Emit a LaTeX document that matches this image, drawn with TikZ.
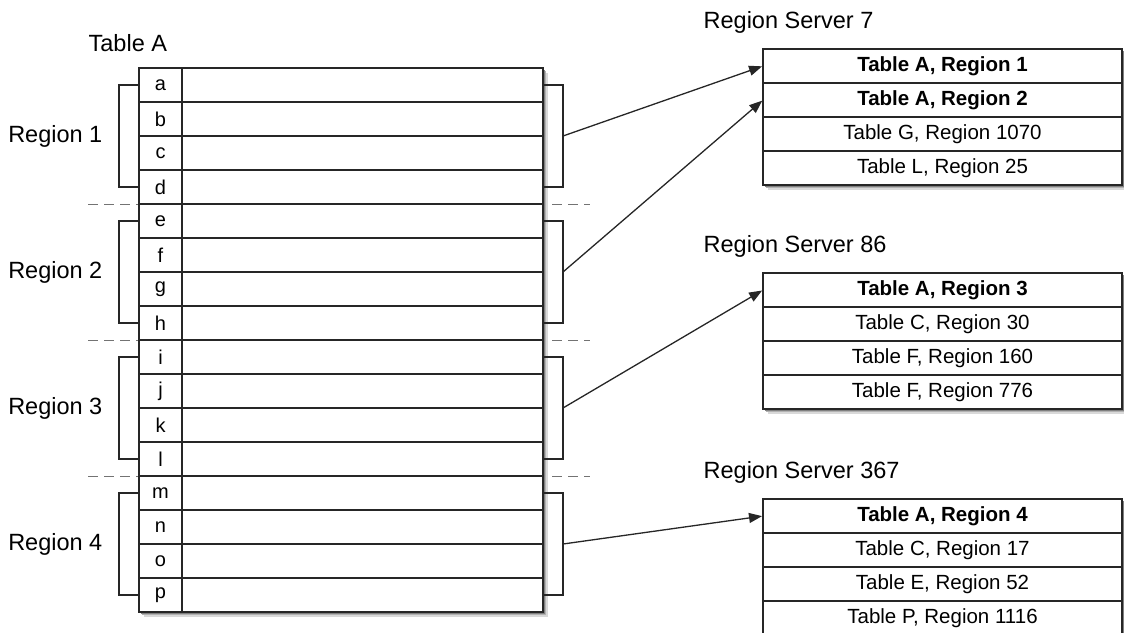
\documentclass[tikz,border=0pt]{standalone}
\usepackage{fontspec}
\setmainfont{Liberation Sans}
\usetikzlibrary{arrows.meta,positioning,fit,backgrounds}

\begin{document}
\begin{tikzpicture}[
  x=1pt, y=-1pt,
  line width=1.3pt,
  >={Triangle[length=13pt, width=10pt]},
  key/.style={rectangle, draw=black!85, minimum width=43pt, minimum height=34pt,
              inner sep=0, outer sep=0, font=\fontsize{20}{22}\selectfont},
  cell/.style={rectangle, draw=black!85, minimum width=361pt, minimum height=34pt,
               inner sep=0, outer sep=0},
  srow/.style={rectangle, draw=black!85, minimum width=359pt, minimum height=34pt,
               inner sep=0, outer sep=0, font=\fontsize{20.5}{22}\selectfont},
  hot/.style={srow, font=\fontsize{20.5}{22}\selectfont\bfseries},
  frame/.style={rectangle, draw=black!85, fill=white, inner sep=0, outer sep=0,
                preaction={fill=black!15, transform canvas={xshift=5pt, yshift=-5pt}},
                preaction={fill=black!30, transform canvas={xshift=3pt, yshift=-3pt}},
                preaction={fill=black!50, transform canvas={xshift=1.5pt, yshift=-1.5pt}}},
  title/.style={anchor=west, inner sep=0, font=\fontsize{23.5}{27}\selectfont},
  reglbl/.style={inner sep=0, font=\fontsize{23.5}{27}\selectfont},
  split/.style={draw=black!55, dash pattern=on 10pt off 6pt},
  brace/.style={draw=black!85},
  tr/.style={->, draw=black!85, line width=1.3pt, shorten >=1pt},
]
\useasboundingbox (0,0) rectangle (1124,632);
\clip (0,0) rectangle (1124,632);

% table A, one row per key
\node[title] (tA) at (88,43) {Table A};
\foreach \k [count=\i from 0] in {a,b,c,d,e,f,g,h,i,j,k,l,m,n,o,p} {
  \node[key] (\k) at (160.5, 85+34*\i) {\k};
  \node[cell, right=0pt of \k] (\k D) {};
}

% regions: brackets on both sides
\foreach \t/\b/\n in {a/d/1, e/h/2, i/l/3, m/p/4} {
  \draw[brace] (\t.west) -- ++(-20,0) |- coordinate[pos=0.25] (l\n) (\b.west);
  \draw[brace] (\t D.east) -- ++(20,0) |- coordinate[pos=0.25] (r\n) (\b D.east);
  \node[reglbl, left=16pt of l\n] (reg\n) {Region \n};
}

% region servers
\node[title] (rs7) at (703,22) {Region Server 7};
\node[hot] (s7a) at (942.5,66) {Table A, Region 1};
\node[hot, below=0pt of s7a] (s7b) {Table A, Region 2};
\node[srow, below=0pt of s7b] (s7c) {Table G, Region 1070};
\node[srow, below=0pt of s7c] (s7d) {Table L, Region 25};

\node[title] (rs86) at (703,246) {Region Server 86};
\node[hot] (s86a) at (942.5,290) {Table A, Region 3};
\node[srow, below=0pt of s86a] (s86b) {Table C, Region 30};
\node[srow, below=0pt of s86b] (s86c) {Table F, Region 160};
\node[srow, below=0pt of s86c] (s86d) {Table F, Region 776};

\node[title] (rs367) at (703,472) {Region Server 367};
\node[hot] (s367a) at (942.5,516) {Table A, Region 4};
\node[srow, below=0pt of s367a] (s367b) {Table C, Region 17};
\node[srow, below=0pt of s367b] (s367c) {Table E, Region 52};
\node[srow, below=0pt of s367c] (s367d) {Table P, Region 1116};

\draw[tr] (r1) -- (s7a.west);
\draw[tr] (r2) -- (s7b.west);
\draw[tr] (r3) -- (s86a.west);
\draw[tr] (r4) -- (s367a.west);

\begin{scope}[on background layer]
  \foreach \k in {d,h,l}
    \draw[split] (88,0 |- \k.south) -- (590,0 |- \k.south);
  \node[frame, fit=(a)(pD)] (tbl) {};
  \node[frame, fit=(s7a)(s7d)] (box7) {};
  \node[frame, fit=(s86a)(s86d)] (box86) {};
  \node[frame, fit=(s367a)(s367d)] (box367) {};
\end{scope}
\end{tikzpicture}
\end{document}
